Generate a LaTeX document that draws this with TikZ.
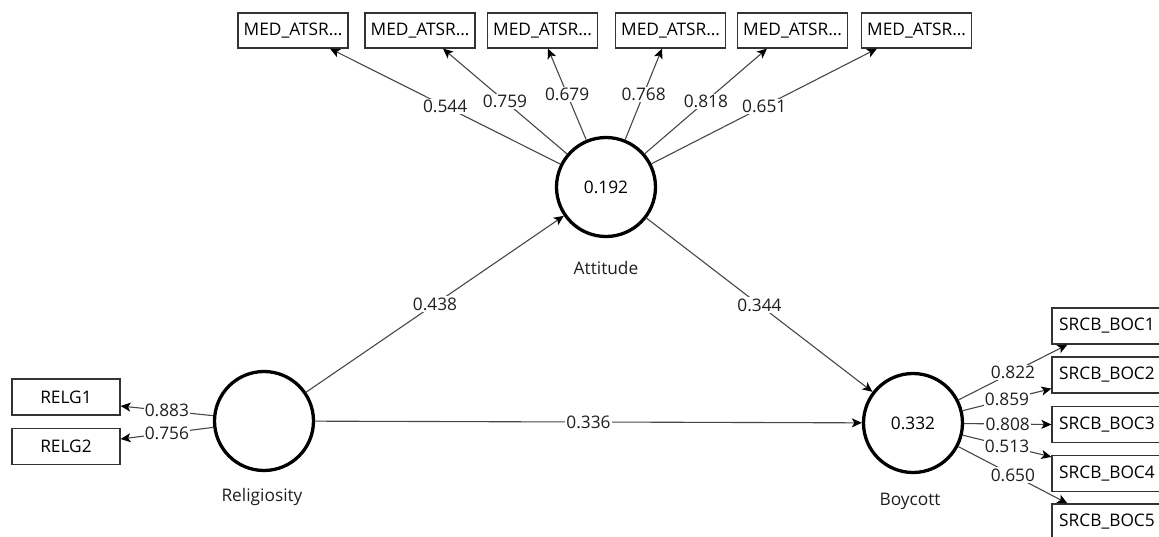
\documentclass[tikz,border=0pt]{standalone}
\usepackage{fontspec}
\setmainfont{Open Sans}
\usetikzlibrary{arrows.meta}
\begin{document}
\begin{tikzpicture}[x=1pt,y=-1pt,
  every node/.style={font=\fontsize{17.3}{20}\selectfont},
  lv/.style={circle,draw=black,line width=3.3pt,minimum size=99pt,inner sep=0pt},
  ind/.style={draw=black!80,line width=1.2pt,minimum width=110pt,minimum height=35pt,inner sep=0pt},
  arr/.style={draw=black!72,line width=1.1pt,-{Stealth[length=10pt,width=9pt,inset=2.5pt,black]}},
  val/.style={fill=white,inner sep=1.2pt,text=black!88},
  lvcap/.style={text=black!88}
]
\useasboundingbox (0,0) rectangle (1159,536);
% latent variables
\node[lv] (att) at (606,187) {0.192};
\node[lv] (rel) at (264,421) {};
\node[lv] (boy) at (913,423) {0.332};
\node[lvcap] (attl) at (606,268) {Attitude};
\node[lvcap] (rell) at (262,497) {Religiosity};
\node[lvcap] (boyl) at (910,501) {Boycott};
% indicators top
\node[ind] (m1) at (293,30.5) {MED\_ATSR…};
\node[ind] (m2) at (420,30.5) {MED\_ATSR…};
\node[ind] (m3) at (542.5,30.5) {MED\_ATSR…};
\node[ind] (m4) at (670.5,30.5) {MED\_ATSR…};
\node[ind] (m5) at (792.5,30.5) {MED\_ATSR…};
\node[ind] (m6) at (916.5,30.5) {MED\_ATSR…};
% indicators left
\node[ind,minimum width=108pt,minimum height=36pt] (r1) at (66,397) {RELG1};
\node[ind,minimum width=108pt,minimum height=36pt] (r2) at (66,446.5) {RELG2};
% indicators right
\node[ind,minimum height=36pt] (s1) at (1107,326) {SRCB\_BOC1};
\node[ind,minimum height=36pt] (s2) at (1107,375) {SRCB\_BOC2};
\node[ind,minimum height=36pt] (s3) at (1107,424.5) {SRCB\_BOC3};
\node[ind,minimum height=36pt] (s4) at (1107,473.5) {SRCB\_BOC4};
\node[ind,minimum height=36pt] (s5) at (1107,522) {SRCB\_BOC5};
% structural paths
\draw[arr] (rel) -- (att) node[val,midway] {0.438};
\draw[arr] (att) -- (boy) node[val,midway] {0.344};
\draw[arr] (rel) -- (boy) node[val,midway] {0.336};
% outer loadings attitude
\draw[arr] (att) -- ([xshift=37pt]m1.south) node[val,midway] {0.544};
\draw[arr] (att) -- ([xshift=23pt]m2.south) node[val,midway] {0.759};
\draw[arr] (att) -- ([xshift=5.5pt]m3.south) node[val,midway] {0.679};
\draw[arr] (att) -- ([xshift=-8.5pt]m4.south) node[val,midway] {0.768};
\draw[arr] (att) -- ([xshift=-25.5pt]m5.south) node[val,midway] {0.818};
\draw[arr] (att) -- ([xshift=-39.5pt]m6.south) node[val,midway] {0.651};
% religiosity
\draw[arr] (rel) -- ([yshift=-9pt]r1.east) node[val,midway] {0.883};
\draw[arr] (rel) -- ([yshift=7.5pt]r2.east) node[val,midway] {0.756};
% boycott
\draw[arr] (boy) -- ([xshift=16pt]s1.south west) node[val,midway] {0.822};
\draw[arr] (boy) -- ([yshift=5pt]s2.south west) node[val,midway] {0.859};
\draw[arr] (boy) -- (s3.west) node[val,midway] {0.808};
\draw[arr] (boy) -- ([yshift=-2pt]s4.north west) node[val,midway] {0.513};
\draw[arr] (boy) -- ([xshift=16pt]s5.north west) node[val,midway] {0.650};
\end{tikzpicture}
\end{document}
